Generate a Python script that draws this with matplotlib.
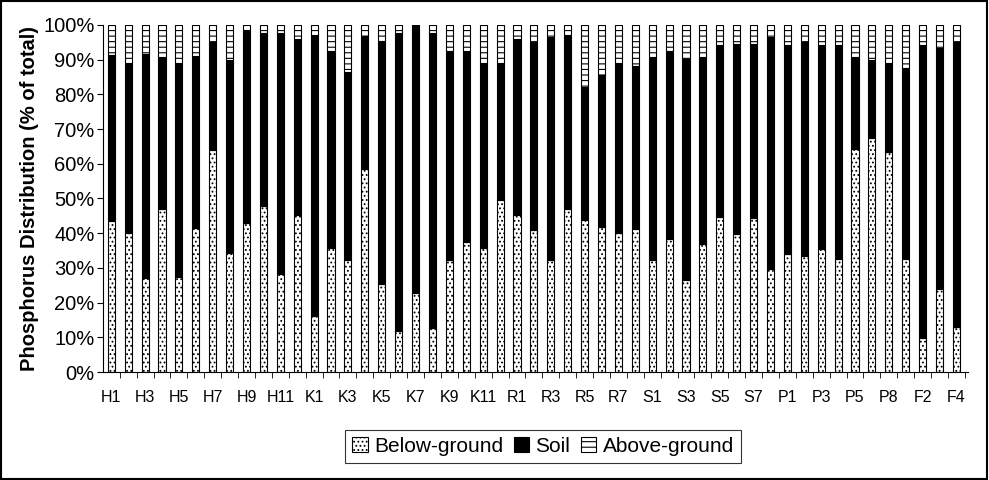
import matplotlib
matplotlib.use("Agg")
import matplotlib.pyplot as plt
import numpy as np

plt.rcParams['font.family'] = ['Liberation Sans', 'DejaVu Sans']
plt.rcParams['hatch.linewidth'] = 0.8

sites = ['H1', 'H2', 'H3', 'H4', 'H5', 'H6', 'H7', 'H8', 'H9', 'H10', 'H11', 'H12',
         'K1', 'K2', 'K3', 'K4', 'K5', 'K6', 'K7', 'K8', 'K9', 'K10', 'K11', 'K12',
         'R1', 'R2', 'R3', 'R4', 'R5', 'R6', 'R7', 'R8',
         'S1', 'S2', 'S3', 'S4', 'S5', 'S6', 'S7', 'S8',
         'P1', 'P2', 'P3', 'P4', 'P5', 'P6', 'P8',
         'F1', 'F2', 'F3', 'F4']

# % of total
below = [43.5, 40, 27, 47, 27.4, 41.6, 64, 34.4, 43, 47.8, 28.2, 45.2,
         16.1, 35.7, 32.2, 58.4, 25.4, 11.8, 22.7, 12.6, 32.2, 37.5, 35.7, 49.6,
         45.2, 40.9, 32.2, 46.9, 43.8, 41.8, 40, 41.3,
         32.2, 38.2, 26.4, 37, 44.7, 39.7, 44.3, 29.6,
         33.9, 33.4, 35.4, 32.5, 64.4, 67.5, 63.5,
         32.5, 9.9, 23.8, 13]
# cumulative top of soil (below + soil)
soil_top = [91.2, 89, 91.7, 90.8, 89, 91, 95, 90, 98.6, 97.6, 97.6, 95.9,
            97, 92.5, 86.5, 96.8, 95.4, 97.8, 100, 97.8, 92.5, 92.5, 89, 89,
            95.9, 95.2, 96.5, 97.1, 82, 85.6, 89, 88.2,
            90.8, 92.5, 90.1, 90.8, 94.1, 94.6, 94.4, 96.5,
            94.2, 95.2, 94.2, 94.2, 90.8, 89.8, 89,
            87.7, 94.2, 93.5, 95]

below = np.array(below)
soil = np.array(soil_top) - below
above = 100 - np.array(soil_top)
x = np.arange(len(sites))

fig = plt.figure(figsize=(9.89, 4.80), dpi=100)
ax = fig.add_axes([0.104, 0.225, 0.875, 0.723])

w = 0.42
ax.bar(x, below, w, color='white', edgecolor='black', hatch='....', linewidth=0.8, label='Below-ground')
ax.bar(x, soil, w, bottom=below, color='black', edgecolor='black', linewidth=0.8, label='Soil')
ax.bar(x, above, w, bottom=below + soil, color='white', edgecolor='black', hatch='---', linewidth=0.8, label='Above-ground')

ax.set_xlim(-0.5, len(sites) - 0.3)
ax.set_ylim(0, 100)
ax.set_yticks(np.arange(0, 101, 10))
ax.set_yticklabels([f'{v}%' for v in range(0, 101, 10)], fontsize=14.5)
ax.set_ylabel('Phosphorus Distribution (% of total)', fontsize=14.5, fontweight='bold', labelpad=3)

ax.set_xticks(x[::2])
ax.set_xticklabels(sites[::2], fontsize=11.5)
ax.set_xticks(x + 0.5, minor=True)
ax.tick_params(axis='x', which='major', length=0, pad=13)
ax.tick_params(axis='x', which='minor', length=4, direction='out')
ax.tick_params(axis='y', length=4, direction='out', pad=2)

ax.spines['top'].set_visible(False)
ax.spines['right'].set_visible(False)

leg = fig.legend(loc='center', bbox_to_anchor=(0.549, 0.07), ncol=3, fontsize=15,
                 frameon=True, fancybox=False, edgecolor='black',
                 handlelength=0.75, handleheight=0.75, handletextpad=0.3,
                 columnspacing=0.5, borderpad=0.35)
leg.get_frame().set_linewidth(0.8)

# outer border of the figure
fig.patches.append(plt.Rectangle((0.001, 0.002), 0.997, 0.996, transform=fig.transFigure,
                                 fill=False, edgecolor='black', linewidth=1.5))

fig.savefig('out.png', dpi=100)
